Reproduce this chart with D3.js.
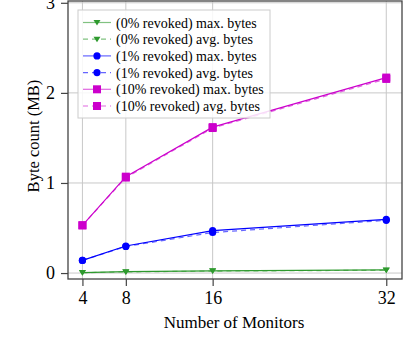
<!DOCTYPE html>
<meta charset="utf-8">
<body style="margin:0;background:#fff">
<style>
  text { font-family: "Liberation Serif", "DejaVu Serif", serif; fill: #000; }
  .tick text { font-size: 18px; }
  .grid line { stroke: #c8c8c8; stroke-width: 1; }
  .legend text { font-size: 14px; }
</style>
<svg width="413" height="339"></svg>
<script src="https://cdn.jsdelivr.net/npm/d3@7/dist/d3.min.js"></script>
<script>
var monitors = [4, 8, 16, 32];
var yTicks = [0, 1, 2, 3];

var max0 = [0.005, 0.015, 0.025, 0.035];
var avg0 = [0.004, 0.013, 0.022, 0.031];
var max1 = [0.14, 0.30, 0.47, 0.595];
var avg1 = [0.14, 0.295, 0.45, 0.585];
var max10 = [0.53, 1.07, 1.62, 2.17];
var avg10 = [0.53, 1.06, 1.61, 2.155];

var series = [
  {name: "(0% revoked) max. bytes", vals: max0, color: "#2e9a2e", dash: null, shape: "tri"},
  {name: "(0% revoked) avg. bytes", vals: avg0, color: "#2e9a2e", dash: "5,4", shape: "tri"},
  {name: "(1% revoked) max. bytes", vals: max1, color: "#0000ff", dash: null, shape: "circ"},
  {name: "(1% revoked) avg. bytes", vals: avg1, color: "#0000ff", dash: "5,4", shape: "circ"},
  {name: "(10% revoked) max. bytes", vals: max10, color: "#cc00cc", dash: null, shape: "sq"},
  {name: "(10% revoked) avg. bytes", vals: avg10, color: "#cc00cc", dash: "5,4", shape: "sq"}
];

var svg = d3.select("svg");
var pLeft = 68, pRight = 402, pTop = 1, pBottom = 279;

var x = d3.scaleLinear().domain([2.67, 33.45]).range([pLeft, pRight]);
var y = d3.scaleLinear().domain([-0.066, 3.02]).range([pBottom, pTop]);

// grid
var grid = svg.append("g").attr("class", "grid");
grid.selectAll(".vx").data(monitors).enter().append("line")
    .attr("x1", d => x(d)).attr("x2", d => x(d)).attr("y1", pTop).attr("y2", pBottom);
grid.selectAll(".hy").data(yTicks).enter().append("line")
    .attr("y1", d => y(d)).attr("y2", d => y(d)).attr("x1", pLeft).attr("x2", pRight);

// frame
svg.append("rect").attr("x", pLeft).attr("y", pTop).attr("width", pRight - pLeft).attr("height", pBottom - pTop)
    .attr("fill", "none").attr("stroke", "#444").attr("stroke-width", 1.3);

var xAxis = svg.append("g").attr("transform", "translate(0," + pBottom + ")")
    .call(d3.axisBottom(x).tickValues(monitors).tickSize(7).tickPadding(5).tickFormat(d3.format("d")));
var yAxis = svg.append("g").attr("transform", "translate(" + pLeft + ",0)")
    .call(d3.axisLeft(y).tickValues(yTicks).tickSize(7).tickPadding(6).tickFormat(d3.format("d")));
[xAxis, yAxis].forEach(function(a) {
  a.select(".domain").remove();
  a.selectAll(".tick line").attr("stroke", "#444").attr("stroke-width", 1.2);
  a.selectAll(".tick text").attr("fill", "#000");
});

svg.append("text").attr("x", 234).attr("y", 328).attr("text-anchor", "middle")
    .style("font-size", "17px").text("Number of Monitors");
svg.append("text").attr("transform", "translate(39,136) rotate(-90)")
    .attr("text-anchor", "middle").style("font-size", "16.5px").text("Byte count (MB)");

function marker(g, shape, color, cx, cy) {
  if (shape === "tri") {
    g.append("path").attr("d", "M" + (cx - 3.5) + "," + (cy - 2.5) + "L" + (cx + 3.5) + "," + (cy - 2.5) + "L" + cx + "," + (cy + 3) + "Z")
      .attr("fill", color);
  } else if (shape === "circ") {
    g.append("circle").attr("cx", cx).attr("cy", cy).attr("r", 3.6).attr("fill", color);
  } else {
    g.append("rect").attr("x", cx - 4).attr("y", cy - 4).attr("width", 8).attr("height", 8).attr("fill", color);
  }
}

var line = d3.line().x((d, i) => x(monitors[i])).y(d => y(d));

series.forEach(function(s) {
  var g = svg.append("g");
  g.append("path").attr("d", line(s.vals)).attr("fill", "none").attr("stroke", s.color)
    .attr("stroke-width", 1.2).attr("stroke-dasharray", s.dash).attr("opacity", s.dash ? 0.6 : 1);
  s.vals.forEach(function(v, i) { marker(g, s.shape, s.color, x(monitors[i]), y(v)); });
});

// legend
var lg = svg.append("g").attr("class", "legend");
lg.append("rect").attr("x", 78).attr("y", 10).attr("width", 192).attr("height", 108)
  .attr("fill", "#fff").attr("fill-opacity", 0.85).attr("stroke", "#ccc");
series.forEach(function(s, i) {
  var ly = 22.5 + i * 16.7;
  lg.append("line").attr("x1", 83).attr("x2", 111).attr("y1", ly).attr("y2", ly)
    .attr("stroke", s.color).attr("stroke-width", 1.2).attr("stroke-dasharray", s.dash).attr("opacity", 0.6);
  marker(lg, s.shape, s.color, 97, ly);
  lg.append("text").attr("x", 116).attr("y", ly + 5).text(s.name);
});
</script>
</body>
